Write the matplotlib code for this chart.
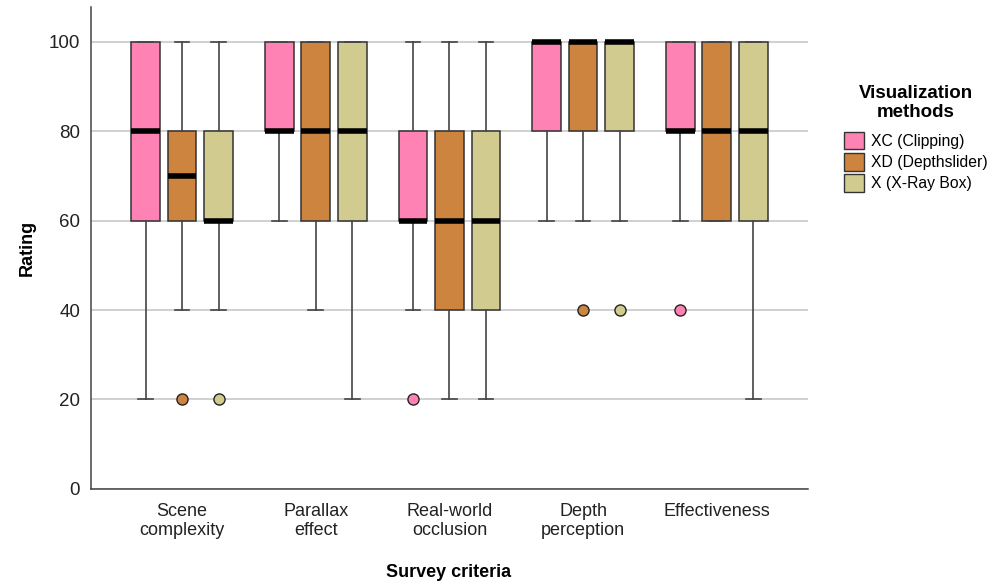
import matplotlib.pyplot as plt
from matplotlib.patches import Patch

plt.rcParams['font.family'] = ['Liberation Sans', 'DejaVu Sans']

criteria = ['Scene\ncomplexity', 'Parallax\neffect', 'Real-world\nocclusion',
            'Depth\nperception', 'Effectiveness']
methods = ['XC (Clipping)', 'XD (Depthslider)', 'X (X-Ray Box)']
colors = ['#FF82B4', '#CC843E', '#D2CB8F']

# per method, one value per criterion
q1 = [[60, 80, 60, 80, 80],
      [60, 60, 40, 80, 60],
      [60, 60, 40, 80, 60]]
med = [[80, 80, 60, 100, 80],
       [70, 80, 60, 100, 80],
       [60, 80, 60, 100, 80]]
q3 = [[100, 100, 80, 100, 100],
      [80, 100, 80, 100, 100],
      [80, 100, 80, 100, 100]]
whislo = [[20, 60, 40, 60, 60],
          [40, 40, 20, 60, 60],
          [40, 20, 20, 60, 20]]
whishi = [[100, 100, 100, 100, 100],
          [100, 100, 100, 100, 100],
          [100, 100, 100, 100, 100]]
fliers = [[[], [], [20], [], [40]],
          [[20], [], [], [40], []],
          [[20], [], [], [40], []]]

fig = plt.figure(figsize=(10.02, 5.84), dpi=100)
ax = fig.add_axes([0.091, 0.163, 0.715, 0.825])

offsets = [-0.273, 0, 0.273]
for m in range(3):
    stats = []
    for c in range(len(criteria)):
        stats.append(dict(q1=q1[m][c], med=med[m][c], q3=q3[m][c],
                          whislo=whislo[m][c], whishi=whishi[m][c],
                          fliers=fliers[m][c]))
    pos = [c + offsets[m] for c in range(len(criteria))]
    ax.bxp(stats, positions=pos, widths=0.215, patch_artist=True,
           showfliers=True, manage_ticks=False,
           boxprops=dict(facecolor=colors[m], edgecolor='#333333', linewidth=1.1),
           medianprops=dict(color='black', linewidth=4.0, solid_capstyle='butt'),
           whiskerprops=dict(color='#444444', linewidth=1.2),
           capprops=dict(color='#444444', linewidth=1.2),
           capwidths=0.11,
           flierprops=dict(marker='o', markerfacecolor=colors[m],
                           markeredgecolor='#222222', markersize=8, markeredgewidth=1.0))

ax.set_xlim(-0.68, 4.68)
ax.set_ylim(0, 107.8)
ax.set_yticks([0, 20, 40, 60, 80, 100])
ax.set_xticks(range(len(criteria)))
ax.set_xticklabels(criteria, fontsize=13, color='#222222', linespacing=1.15)
ax.tick_params(axis='y', labelsize=13.5, length=0, pad=8, labelcolor='#222222')
ax.tick_params(axis='x', length=0, pad=10)
ax.yaxis.grid(True, color='#C8C8C8', linewidth=1.2)
ax.set_axisbelow(True)
for s in ['top', 'right']:
    ax.spines[s].set_visible(False)
for s in ['left', 'bottom']:
    ax.spines[s].set_color('#444444')
    ax.spines[s].set_linewidth(1.1)

ax.set_ylabel('Rating', fontsize=13, fontweight='bold', labelpad=9)
fig.text(0.448, 0.005, 'Survey criteria', fontsize=13, fontweight='bold',
         ha='center', va='bottom')

handles = [Patch(facecolor=colors[i], edgecolor='#333333', label=methods[i])
           for i in range(3)]
leg = fig.legend(handles=handles, loc='upper left', bbox_to_anchor=(0.842, 0.855),
                 frameon=False, fontsize=11.3, title='Visualization\nmethods',
                 title_fontproperties=dict(weight='bold', size=13.5),
                 handlelength=1.3, handleheight=1.3, handletextpad=0.45,
                 labelspacing=0.25, borderaxespad=0, borderpad=0)
leg.get_title().set_multialignment('center')
leg.get_title().set_linespacing(1.2)
leg._legend_box.align = 'center'
leg._legend_box.sep = 8

fig.savefig('out.png', dpi=100)
